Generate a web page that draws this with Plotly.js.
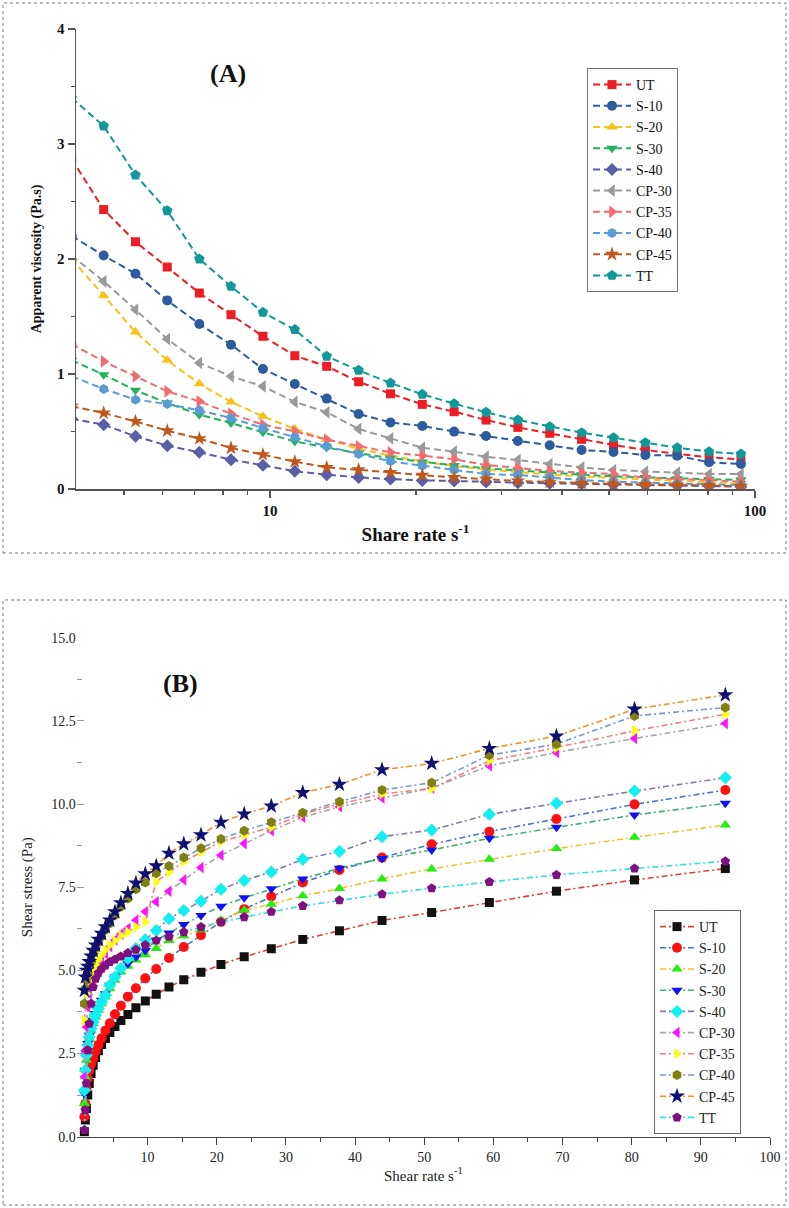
<!DOCTYPE html>
<html>
<head>
<meta charset="utf-8">
<script src="https://cdn.plot.ly/plotly-3.0.1.min.js"></script>
<style>
  html, body { margin: 0; padding: 0; background: #ffffff; }
  #chart { width: 789px; height: 1208px; }
</style>
</head>
<body>
<div id="chart"></div>
<script>
// ---------- Panel A: apparent viscosity vs shear rate (log x) ----------
const seriesNames = ["UT", "S-10", "S-20", "S-30", "S-40", "CP-30", "CP-35", "CP-40", "CP-45", "TT"];

const rateA = [3.90, 4.54, 5.28, 6.14, 7.15, 8.31, 9.67, 11.25, 13.09, 15.23, 17.72,
               20.61, 23.97, 27.89, 32.44, 37.74, 43.90, 51.08, 59.42, 69.12, 80.41, 93.54];

const viscUT   = [2.87, 2.43, 2.15, 1.93, 1.704, 1.516, 1.328, 1.159, 1.067, 0.933, 0.828, 0.736, 0.672, 0.600, 0.536, 0.484, 0.432, 0.383, 0.339, 0.304, 0.275, 0.258];
const viscS10  = [2.20, 2.03, 1.872, 1.64, 1.435, 1.255, 1.043, 0.913, 0.786, 0.652, 0.579, 0.548, 0.499, 0.461, 0.417, 0.380, 0.339, 0.322, 0.296, 0.290, 0.232, 0.217];
const viscS20  = [2.00, 1.681, 1.365, 1.119, 0.916, 0.757, 0.632, 0.522, 0.430, 0.350, 0.290, 0.240, 0.200, 0.170, 0.145, 0.125, 0.110, 0.095, 0.080, 0.070, 0.060, 0.050];
const viscS30  = [1.12, 0.994, 0.858, 0.748, 0.646, 0.574, 0.493, 0.414, 0.360, 0.310, 0.270, 0.235, 0.205, 0.180, 0.160, 0.140, 0.125, 0.110, 0.100, 0.090, 0.085, 0.080];
const viscS40  = [0.61, 0.559, 0.458, 0.377, 0.319, 0.255, 0.206, 0.154, 0.125, 0.101, 0.087, 0.075, 0.070, 0.060, 0.055, 0.050, 0.045, 0.040, 0.035, 0.030, 0.025, 0.020];
const viscCP30 = [2.03, 1.806, 1.559, 1.304, 1.096, 0.980, 0.893, 0.757, 0.667, 0.522, 0.440, 0.359, 0.325, 0.281, 0.252, 0.217, 0.188, 0.165, 0.151, 0.142, 0.130, 0.130];
const viscCP35 = [1.26, 1.11, 0.98, 0.849, 0.762, 0.655, 0.559, 0.501, 0.429, 0.371, 0.319, 0.290, 0.258, 0.209, 0.180, 0.157, 0.142, 0.130, 0.101, 0.084, 0.078, 0.064];
const viscCP40 = [0.98, 0.87, 0.777, 0.739, 0.684, 0.617, 0.530, 0.449, 0.371, 0.304, 0.241, 0.203, 0.165, 0.130, 0.122, 0.101, 0.078, 0.064, 0.055, 0.045, 0.040, 0.035];
const viscCP45 = [0.72, 0.661, 0.588, 0.507, 0.438, 0.357, 0.299, 0.238, 0.188, 0.168, 0.145, 0.120, 0.100, 0.085, 0.070, 0.060, 0.050, 0.045, 0.040, 0.035, 0.030, 0.025];
const viscTT   = [3.40, 3.157, 2.73, 2.42, 2.00, 1.762, 1.536, 1.386, 1.154, 1.032, 0.922, 0.823, 0.742, 0.667, 0.600, 0.542, 0.490, 0.446, 0.403, 0.359, 0.325, 0.304];

// ---------- Panel B: shear stress vs shear rate ----------
const rateB = [0.86, 1.0, 1.16, 1.35, 1.57, 1.83, 2.13, 2.48, 2.88, 3.35, 3.90, 4.54, 5.28, 6.14, 7.15, 8.31,
               9.67, 11.25, 13.09, 15.23, 17.72, 20.61, 23.97, 27.89, 32.44, 37.74, 43.90, 51.08, 59.42, 69.12, 80.41, 93.54];

const stressUT   = [0.15, 0.5, 0.85, 1.25, 1.6, 1.9, 2.15, 2.38, 2.58, 2.77, 2.95, 3.13, 3.31, 3.49, 3.67, 3.88, 4.08, 4.28, 4.5, 4.72, 4.94, 5.18, 5.41, 5.65, 5.93, 6.19, 6.5, 6.74, 7.04, 7.38, 7.72, 8.06];
const stressS10  = [0.6, 1.0, 1.45, 1.75, 2.0, 2.18, 2.35, 2.56, 2.76, 2.96, 3.19, 3.41, 3.68, 3.94, 4.21, 4.46, 4.76, 5.04, 5.37, 5.7, 6.06, 6.46, 6.84, 7.22, 7.64, 8.02, 8.39, 8.79, 9.17, 9.55, 9.99, 10.42];
const stressS20  = [1.0, 1.8, 2.3, 2.65, 2.95, 3.2, 3.4, 3.6, 3.8, 4.0, 4.2, 4.45, 4.7, 4.95, 5.12, 5.31, 5.47, 5.66, 5.9, 6.03, 6.22, 6.51, 6.81, 6.99, 7.24, 7.46, 7.75, 8.05, 8.34, 8.66, 9.0, 9.37];
const stressS30  = [1.3, 2.0, 2.5, 2.8, 3.05, 3.3, 3.5, 3.7, 3.9, 4.1, 4.3, 4.55, 4.8, 5.0, 5.2, 5.4, 5.6, 5.91, 6.12, 6.38, 6.65, 6.93, 7.18, 7.45, 7.75, 8.07, 8.36, 8.62, 8.97, 9.3, 9.67, 10.02];
const stressS40  = [1.4, 2.0, 2.45, 2.75, 3.0, 3.25, 3.45, 3.65, 3.85, 4.05, 4.25, 4.55, 4.8, 5.06, 5.36, 5.66, 5.92, 6.2, 6.55, 6.8, 7.08, 7.44, 7.7, 7.96, 8.34, 8.57, 9.02, 9.22, 9.69, 10.02, 10.39, 10.79];
const stressCP30 = [1.8, 2.6, 3.3, 3.9, 4.3, 4.55, 4.75, 4.95, 5.12, 5.3, 5.5, 5.71, 5.91, 6.09, 6.26, 6.51, 6.76, 7.06, 7.38, 7.72, 8.09, 8.46, 8.81, 9.2, 9.6, 9.92, 10.18, 10.48, 11.15, 11.55, 11.97, 12.42];
const stressCP35 = [3.5, 4.0, 4.3, 4.5, 4.7, 4.86, 5.03, 5.16, 5.31, 5.46, 5.61, 5.76, 5.9, 6.05, 6.15, 6.3, 6.46, 7.67, 7.95, 8.27, 8.55, 8.87, 9.07, 9.3, 9.7, 10.0, 10.3, 10.47, 11.3, 11.7, 12.2, 12.7];
const stressCP40 = [4.0, 4.45, 4.7, 4.95, 5.13, 5.31, 5.51, 5.66, 5.83, 6.01, 6.21, 6.41, 6.66, 6.91, 7.16, 7.44, 7.64, 7.92, 8.14, 8.39, 8.67, 8.95, 9.2, 9.45, 9.74, 10.07, 10.42, 10.64, 11.47, 11.8, 12.65, 12.9];
const stressCP45 = [4.4, 4.8, 5.0, 5.12, 5.26, 5.43, 5.6, 5.76, 5.93, 6.11, 6.31, 6.51, 6.76, 7.03, 7.31, 7.62, 7.9, 8.14, 8.52, 8.8, 9.07, 9.45, 9.7, 9.94, 10.34, 10.59, 11.03, 11.22, 11.67, 12.04, 12.85, 13.28];
const stressTT   = [0.2, 0.8, 1.6, 2.6, 3.4, 4.0, 4.5, 4.75, 4.92, 5.05, 5.15, 5.25, 5.33, 5.42, 5.52, 5.62, 5.76, 5.9, 6.01, 6.15, 6.3, 6.45, 6.6, 6.76, 6.94, 7.11, 7.29, 7.47, 7.66, 7.87, 8.06, 8.28];

// ---------- styles ----------
const viscSeries   = [viscUT, viscS10, viscS20, viscS30, viscS40, viscCP30, viscCP35, viscCP40, viscCP45, viscTT];
const stressSeries = [stressUT, stressS10, stressS20, stressS30, stressS40, stressCP30, stressCP35, stressCP40, stressCP45, stressTT];

const colorsA  = ["#ee1c25", "#2e5b9a", "#f7c11a", "#22b360", "#595ea5", "#9a9a9a", "#f26b6f", "#5b9bd5", "#c0581e", "#13989a"];
const symbolsA = ["square", "circle", "triangle-up", "triangle-down", "diamond", "triangle-left", "triangle-right", "hexagon", "star", "pentagon"];
const sizesA   = [9, 10, 10, 10, 10, 11, 11, 10, 11, 11];

const markerB  = ["#111111", "#ff1010", "#22ee10", "#1010f0", "#10f0f0", "#ff10ff", "#ffff10", "#808010", "#101070", "#801080"];
const lineB    = ["#e0403a", "#4a78c0", "#f0c030", "#40b070", "#8878a8", "#a0a8a8", "#f08080", "#7898c8", "#f09030", "#30e0e0"];
const symbolsB = ["square", "circle", "triangle-up", "triangle-down", "diamond", "triangle-left", "triangle-right", "hexagon", "star", "pentagon"];
const sizesB   = [9, 10, 10, 10, 10, 10, 10, 10, 12, 10];

const serif = "Liberation Serif, Times New Roman, serif";
const traces = [];

seriesNames.forEach((name, i) => {
  traces.push({
    type: "scatter", mode: "lines+markers", name: name,
    x: rateA, y: viscSeries[i], xaxis: "x", yaxis: "y", legend: "legend",
    line: { color: colorsA[i], width: 2, dash: "7px,4px" },
    marker: { color: colorsA[i], symbol: symbolsA[i], size: sizesA[i], line: { width: 0 } }
  });
});

seriesNames.forEach((name, i) => {
  traces.push({
    type: "scatter", mode: "lines+markers", name: name,
    x: rateB, y: stressSeries[i], xaxis: "x2", yaxis: "y2", legend: "legend2",
    line: { color: lineB[i], width: 1.6, dash: "6px,3px,2px,3px" },
    marker: { color: markerB[i], symbol: symbolsB[i], size: sizesB[i], line: { width: 0 } }
  });
});

const W = 789, H = 1208;
const px = v => v / W;
const py = v => 1 - v / H;

const layout = {
  width: W, height: H,
  margin: { l: 0, r: 0, t: 0, b: 0 },
  paper_bgcolor: "#ffffff", plot_bgcolor: "rgba(0,0,0,0)",
  font: { family: serif, color: "#111111" },
  showlegend: true,
  xaxis: {
    type: "log", range: [0.6, 2], domain: [px(76), px(755)], anchor: "y",
    showline: true, linecolor: "#555555", linewidth: 1.5, showgrid: false, zeroline: false,
    ticks: "outside", ticklen: 7, tickcolor: "#555555", tickwidth: 1.2,
    tickvals: [10, 100], ticktext: ["10", "100"],
    tickfont: { family: serif, size: 15, weight: "bold", color: "#111" },
    minor: { tickvals: [5, 6, 7, 8, 9, 20, 30, 40, 50, 60, 70, 80, 90], ticks: "outside", ticklen: 4, tickcolor: "#555555", showgrid: false },
    title: { text: "Share rate s<sup>-1</sup>", font: { family: serif, size: 19, weight: "bold", color: "#111" }, standoff: 10 }
  },
  yaxis: {
    range: [0, 4], domain: [py(489), py(29)], anchor: "x",
    showline: true, linecolor: "#555555", linewidth: 1.5, showgrid: false, zeroline: false,
    ticks: "outside", ticklen: 7, tickcolor: "#555555", tickwidth: 1.2,
    tickvals: [0, 1, 2, 3, 4],
    tickfont: { family: serif, size: 15, weight: "bold", color: "#111" },
    minor: { dtick: 0.5, ticks: "outside", ticklen: 4, tickcolor: "#555555", showgrid: false },
    title: { text: "Apparent viscosity (Pa.s)", font: { family: serif, size: 14, weight: "bold", color: "#111" }, standoff: 12 }
  },
  xaxis2: {
    range: [-0.25, 100], domain: [px(76.7), px(770)], anchor: "y2",
    showline: true, linecolor: "#444444", linewidth: 1, showgrid: false, zeroline: false,
    ticks: "outside", ticklen: 7, tickcolor: "#444444",
    tickvals: [10, 20, 30, 40, 50, 60, 70, 80, 90, 100],
    tickfont: { family: serif, size: 14, color: "#222" },
    minor: { tickvals: [5, 15, 25, 35, 45, 55, 65, 75, 85, 95], ticks: "outside", ticklen: 4, tickcolor: "#444444", showgrid: false },
    title: { text: "Shear rate s<sup>-1</sup>", font: { family: serif, size: 15, color: "#222" }, standoff: 6 }
  },
  yaxis2: {
    range: [0, 15], domain: [py(1136.7), py(637.7)], anchor: "x2",
    showline: false, showgrid: false, zeroline: false,
    ticks: "inside", ticklen: 7, tickcolor: "#999999",
    tickvals: [0, 2.5, 5, 7.5, 10, 12.5, 15], ticktext: ["0.0", "2.5", "5.0", "7.5", "10.0", "12.5", "15.0"],
    tickfont: { family: serif, size: 14, color: "#222" },
    minor: { dtick: 1.25, ticks: "inside", ticklen: 5, tickcolor: "#999999", showgrid: false },
    title: { text: "Shear stress (Pa)", font: { family: serif, size: 15, color: "#222" }, standoff: 14 }
  },
  legend: {
    x: px(587), y: py(68), xanchor: "left", yanchor: "top",
    bgcolor: "#ffffff", bordercolor: "#777777", borderwidth: 1,
    font: { family: serif, size: 14, color: "#111" }, itemwidth: 38, tracegroupgap: 0
  },
  legend2: {
    x: px(654), y: py(910), xanchor: "left", yanchor: "top",
    bgcolor: "#ffffff", bordercolor: "#666666", borderwidth: 1,
    font: { family: serif, size: 14, color: "#222" }, itemwidth: 34, tracegroupgap: 0
  },
  shapes: [
    { type: "rect", xref: "paper", yref: "paper", x0: px(3), x1: px(786), y0: py(553), y1: py(3),
      line: { color: "#777777", width: 1, dash: "dot" } },
    { type: "rect", xref: "paper", yref: "paper", x0: px(3), x1: px(786), y0: py(1205), y1: py(600),
      line: { color: "#777777", width: 1, dash: "dot" } }
  ],
  annotations: [
    { text: "(A)", xref: "paper", yref: "paper", x: px(228), y: py(73), xanchor: "center", yanchor: "middle",
      showarrow: false, font: { family: serif, size: 26, weight: "bold", color: "#111" } },
    { text: "(B)", xref: "paper", yref: "paper", x: px(180), y: py(683), xanchor: "center", yanchor: "middle",
      showarrow: false, font: { family: serif, size: 26, weight: "bold", color: "#111" } }
  ]
};

Plotly.newPlot("chart", traces, layout, { displayModeBar: false, staticPlot: true });
</script>
</body>
</html>
